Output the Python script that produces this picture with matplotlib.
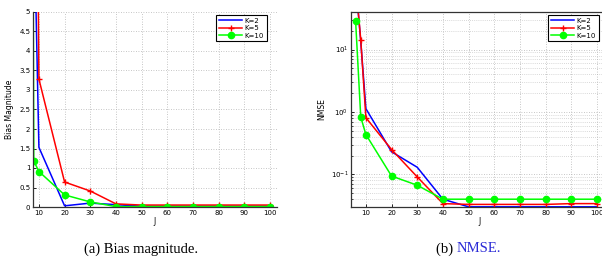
import matplotlib
matplotlib.use("Agg")
import matplotlib.pyplot as plt
from matplotlib.ticker import LogLocator, NullFormatter

# J values (number of ...)
J = [6, 8, 10, 20, 30, 40, 50, 60, 70, 80, 90, 100]

# (a) bias magnitude
bias_k2 = [30, 7.8, 1.53, 0.03, 0.10, 0.06, 0.02, 0.02, 0.02, 0.02, 0.02, 0.02]
bias_k5 = [60, 20, 3.28, 0.64, 0.41, 0.08, 0.05, 0.05, 0.05, 0.05, 0.05, 0.05]
bias_k10 = [40, 1.18, 0.91, 0.31, 0.13, 0.01, 0.01, 0.01, 0.01, 0.01, 0.01, 0.01]

# (b) NMSE
nmse_k2 = [120, 13.5, 1.13, 0.23, 0.13, 0.040, 0.0302, 0.0302, 0.0302, 0.0302, 0.0302, 0.0302]
nmse_k5 = [120, 14.3, 0.81, 0.25, 0.091, 0.034, 0.033, 0.033, 0.033, 0.033, 0.034, 0.034]
nmse_k10 = [28.4, 0.83, 0.435, 0.094, 0.067, 0.040, 0.040, 0.040, 0.040, 0.040, 0.040, 0.040]

labels = ["K=2", "K=5", "K=10"]
xticks = [10, 20, 30, 40, 50, 60, 70, 80, 90, 100]

plt.rcParams["font.family"] = ["DejaVu Sans"]

fig = plt.figure(figsize=(6.02, 2.59), dpi=100)
ax1 = fig.add_axes([33 / 602, 52 / 259, 244 / 602, 195 / 259])
# right panel runs past the figure edge (cropped in the original)
ax2 = fig.add_axes([351 / 602, 52 / 259, 258 / 602, 195 / 259])


def draw(ax, yk2, yk5, yk10, width_px):
    ax.plot(J, yk2, color="#0000ff", lw=1.1, label=labels[0])
    ax.plot(J, yk5, color="#ff0000", lw=1.1, marker="+", ms=5, mew=1.0, label=labels[1])
    ax.plot(J, yk10, color="#00ff00", lw=1.1, marker="o", ms=4.5, mfc="#00ff00",
            mec="#00ff00", label=labels[2])
    ax.set_xticks(xticks)
    ax.tick_params(labelsize=5, direction="in", length=2, width=0.6, pad=2)
    ax.set_xlabel("J", fontsize=5.5, labelpad=1)
    leg = ax.legend(loc="upper right", bbox_to_anchor=(1 - 10 / width_px, 1 - 3 / 195),
                    fontsize=5, fancybox=False, framealpha=1, edgecolor="black",
                    handlelength=3.3, borderpad=0.4, labelspacing=0.2,
                    handletextpad=0.4, borderaxespad=0)
    leg.get_frame().set_linewidth(0.8)
    for s in ax.spines.values():
        s.set_color("#333333")
        s.set_linewidth(0.9)


draw(ax1, bias_k2, bias_k5, bias_k10, 244)
ax1.set_xlim(7.7, 102.7)
ax1.set_ylim(0, 5)
ax1.set_yticks([0, 0.5, 1, 1.5, 2, 2.5, 3, 3.5, 4, 4.5, 5])
ax1.set_yticklabels(["0", "0.5", "1", "1.5", "2", "2.5", "3", "3.5", "4", "4.5", "5"])
ax1.grid(True, ls=(0, (1, 2)), color="#b4b4b4", lw=0.6)
ax1.spines["top"].set_visible(False)
ax1.spines["right"].set_visible(False)
ax1.set_ylabel("Bias Magnitude", fontsize=5.5, labelpad=4)

draw(ax2, nmse_k2, nmse_k5, nmse_k10, 258)
ax2.set_yscale("log")
ax2.set_xlim(4.2, 104.7)
ax2.set_ylim(0.03, 40)
ax2.yaxis.set_major_locator(LogLocator(base=10))
ax2.yaxis.set_minor_locator(LogLocator(base=10, subs=range(2, 10)))
ax2.yaxis.set_minor_formatter(NullFormatter())
ax2.tick_params(which="minor", direction="in", length=1.2, width=0.5)
ax2.grid(True, which="major", ls=(0, (1, 2)), color="#b4b4b4", lw=0.6)
ax2.grid(True, which="minor", axis="y", ls=(0, (1, 2)), color="#b4b4b4", lw=0.5)
ax2.set_ylabel("NMSE", fontsize=5.5, labelpad=3)

# captions
fig.text(141 / 602, 1 - 249 / 259, "(a) Bias magnitude.", ha="center", va="center",
         fontsize=10.5, family="Liberation Serif")
fig.text(457 / 602, 1 - 249 / 259, "(b) ", ha="right", va="center",
         fontsize=10.5, family="Liberation Serif")
fig.text(457 / 602, 1 - 249 / 259, "NMSE.", ha="left", va="center",
         fontsize=10.5, family="Liberation Serif", color="#2b2bd6")

fig.savefig("out.png", dpi=100)
